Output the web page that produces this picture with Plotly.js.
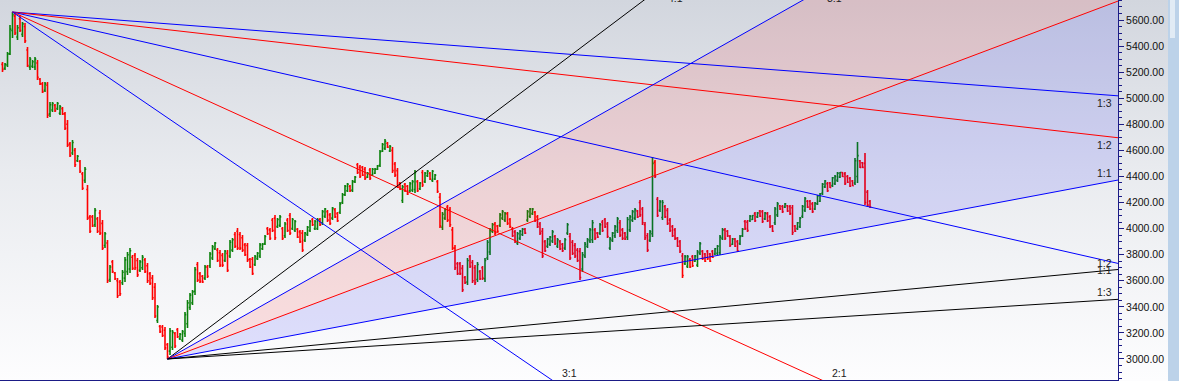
<!DOCTYPE html>
<html><head><meta charset="utf-8">
<script src="https://cdn.plot.ly/plotly-3.0.1.min.js"></script>
<style>
html,body{margin:0;padding:0;}
body{width:1179px;height:381px;overflow:hidden;position:relative;background:linear-gradient(to bottom,#d2d6de 0%,#e9ebef 45%,#fdfdfe 100%);}
#chart{position:absolute;left:0;top:0;width:1179px;height:381px;}
#scroll{position:absolute;left:1168px;top:0;width:11px;height:381px;background:#bcd2e9;}
#thumb{position:absolute;left:1170px;top:0;width:5px;height:38px;background:#e1ebf5;}
</style></head><body>
<div id="chart"></div><div id="scroll"></div><div id="thumb"></div>
<script>
// ---- OHLC data (bar index 0..347) ----
const openPrices = [
5260,5230,5255,5340,5520,5630,5470,5610,5490,5550,
5370,5240,5245,5240,5270,5145,5110,5060,5100,4880,
4910,4945,4920,4885,4920,4880,4800,4650,4580,4600,
4520,4515,4420,4370,4300,4090,4090,4030,4075,4120,
4040,3870,3890,3610,3745,3660,3600,3590,3585,3620,
3670,3690,3780,3795,3755,3680,3700,3760,3715,3655,
3620,3550,3295,3250,3245,3220,3110,3060,3090,3195,
3225,3155,3145,3195,3270,3395,3430,3520,3725,3655,
3635,3620,3705,3715,3775,3845,3835,3815,3795,3755,
3810,3790,3835,3955,3980,3955,3930,3875,3870,3765,
3765,3725,3770,3790,3845,3885,4000,3990,4065,4080,
4015,4025,4000,3945,4065,4100,4000,3985,3995,3975,
3965,3910,3955,3985,4070,4000,4000,4070,4045,4095,
4130,4105,4080,4145,4115,4125,4200,4260,4290,4325,
4295,4360,4490,4470,4470,4455,4395,4450,4410,4425,
4455,4485,4595,4615,4655,4595,4600,4495,4445,4350,
4215,4340,4325,4290,4295,4300,4360,4305,4430,4360,
4405,4425,4370,4380,4360,4240,4010,4080,4165,4145,
3990,3850,3730,3730,3695,3625,3590,3785,3740,3700,
3610,3670,3700,3615,3775,3820,3980,4035,4020,4025,
4080,4065,4115,4070,4000,3975,3890,3925,3955,3995,
4065,4095,4115,4125,4090,4035,3980,3900,3865,3880,
3905,3940,3865,3900,3880,3850,3965,3940,3895,3870,
3835,3825,3690,3790,3865,3905,3915,3990,3965,3965,
4050,4070,4035,3850,3910,3945,3985,4045,3990,3965,
3935,3990,4065,4080,4135,4200,4150,4030,3945,3910,
3960,4510,4225,4140,4085,4170,4140,4065,4015,3990,
3925,3900,3790,3730,3710,3765,3785,3750,3720,3810,
3825,3805,3825,3805,3825,3805,3810,3815,3925,3990,
3980,3940,3880,3920,3900,3885,3945,4055,4050,4060,
4070,4115,4090,4135,4130,4075,4115,4090,4020,4045,
4105,4175,4170,4165,4175,4170,4160,4020,4000,4015,
4095,4140,4210,4210,4190,4150,4190,4210,4270,4320,
4345,4350,4330,4345,4370,4395,4430,4420,4400,4385,
4365,4350,4400,4520,4505,4500,4280,4210];
const highPrices = [
5277,5270,5354,5561,5661,5655,5561,5638,5584,5577,
5393,5316,5293,5316,5293,5155,5124,5124,5124,4971,
4971,4955,4971,4948,4932,4894,4833,4664,4680,4618,
4564,4526,4434,4472,4334,4104,4104,4158,4089,4143,
4066,3974,3913,3721,3759,3667,3621,3606,3682,3782,
3820,3851,3797,3813,3774,3759,3797,3774,3736,3667,
3644,3583,3414,3260,3260,3245,3122,3237,3222,3207,
3237,3199,3222,3360,3452,3506,3529,3705,3744,3667,
3644,3721,3721,3820,3874,3897,3851,3836,3813,3836,
3836,3913,3928,3974,4004,3974,3951,3889,3889,3774,
3782,3797,3820,3889,3889,3951,4012,4004,4081,4104,
4081,4104,4012,4051,4081,4120,4081,4066,4004,3989,
3989,3974,4020,4066,4081,4066,4081,4081,4143,4158,
4143,4120,4165,4158,4127,4204,4273,4334,4350,4334,
4373,4403,4503,4488,4480,4472,4434,4465,4465,4465,
4488,4603,4656,4687,4664,4641,4626,4511,4465,4357,
4334,4350,4334,4357,4373,4449,4373,4357,4449,4434,
4449,4434,4449,4418,4373,4273,4127,4158,4181,4165,
4012,3874,3744,3744,3721,3636,3774,3797,3759,3721,
3744,3682,3713,3774,3913,4004,4043,4051,4027,4120,
4143,4127,4127,4081,4012,3989,3974,3989,4004,4004,
4143,4158,4158,4135,4104,4051,4004,3913,3928,3943,
3989,3951,3928,3913,3889,3928,4043,3966,3913,3889,
3851,3851,3820,3897,3928,4004,4066,4004,3974,4043,
4066,4081,4051,3935,3974,4027,4089,4066,4004,3974,
4089,4104,4143,4158,4143,4219,4165,4051,3966,3989,
4549,4526,4242,4219,4219,4181,4158,4081,4027,4004,
3935,3913,3813,3797,3797,3774,3797,3797,3836,3897,
3836,3813,3836,3813,3836,3851,3874,3951,4004,4004,
3989,3951,3928,3928,3913,3951,4004,4066,4066,4104,
4104,4127,4127,4143,4143,4127,4127,4104,4027,4165,
4204,4181,4181,4196,4181,4181,4181,4027,4051,4089,
4181,4242,4219,4219,4204,4204,4257,4273,4350,4373,
4357,4357,4396,4411,4434,4434,4434,4434,4411,4396,
4373,4541,4664,4526,4511,4580,4296,4219];
const lowPrices = [
5201,5216,5239,5331,5462,5485,5446,5508,5469,5423,
5239,5216,5232,5216,5140,5101,5040,5047,4848,4856,
4894,4894,4910,4871,4871,4756,4626,4549,4564,4472,
4511,4426,4296,4350,4066,3966,4012,4012,3966,3951,
3836,3851,3583,3590,3659,3606,3468,3483,3567,3590,
3644,3659,3682,3682,3629,3667,3682,3659,3583,3567,
3452,3314,3276,3199,3168,3069,3000,3030,3069,3084,
3161,3146,3130,3168,3237,3376,3414,3491,3590,3583,
3583,3606,3621,3698,3759,3836,3744,3705,3705,3744,
3667,3774,3820,3851,3836,3836,3820,3790,3744,3698,
3644,3713,3759,3774,3836,3874,3951,3913,3974,3913,
4004,4012,3913,3928,3974,3951,3989,3974,3928,3889,
3820,3897,3943,3974,4020,3989,3989,4020,4027,4081,
4051,4027,4066,4081,4051,4112,4188,4250,4280,4280,
4280,4350,4418,4388,4403,4373,4388,4373,4403,4418,
4449,4472,4587,4603,4618,4587,4426,4396,4311,4296,
4196,4280,4257,4280,4280,4273,4280,4296,4319,4350,
4396,4373,4357,4373,4273,4004,3989,4066,4051,4012,
3836,3682,3644,3644,3514,3575,3567,3698,3583,3567,
3590,3606,3606,3590,3759,3797,3966,3951,3974,4012,
4066,4051,4027,4004,3935,3889,3874,3913,3943,3958,
4051,4081,4104,4051,4004,3951,3774,3820,3851,3866,
3889,3874,3851,3836,3820,3836,3951,3759,3797,3774,
3744,3606,3667,3774,3851,3889,3889,3913,3928,3951,
3974,4004,3928,3836,3897,3928,3966,3935,3913,3913,
3913,3974,4051,4066,4081,4089,4027,3913,3820,3897,
3935,4388,4089,4127,4066,4081,4027,3974,3935,3913,
3859,3813,3621,3721,3698,3698,3705,3744,3705,3797,
3759,3744,3759,3744,3774,3797,3797,3797,3913,3913,
3935,3859,3874,3859,3820,3874,3935,3989,3974,4051,
4066,4051,4081,4089,4043,4066,4051,4004,3974,4027,
4089,4143,4120,4158,4127,4104,3951,3974,3989,4004,
4081,4127,4158,4143,4120,4143,4181,4204,4257,4311,
4280,4311,4319,4334,4357,4388,4396,4334,4350,4319,
4326,4334,4350,4465,4465,4181,4165,4158];
const closePrices = [
5220,5260,5340,5530,5640,5500,5540,5520,5570,5440,
5250,5300,5280,5300,5160,5110,5050,5110,4870,4950,
4960,4905,4960,4935,4880,4770,4640,4560,4660,4490,
4555,4440,4310,4455,4080,3980,4020,4140,3980,3965,
3850,3960,3600,3705,3670,3615,3485,3500,3665,3760,
3800,3830,3695,3700,3645,3745,3780,3670,3600,3580,
3470,3330,3400,3210,3180,3085,3015,3215,3205,3100,
3170,3190,3210,3340,3430,3490,3515,3685,3605,3595,
3590,3705,3635,3805,3860,3890,3755,3720,3720,3825,
3680,3895,3915,3865,3850,3850,3835,3800,3760,3705,
3655,3785,3810,3875,3880,3940,3960,3925,3985,3930,
4070,4090,3925,4035,3985,3965,4070,4055,3935,3900,
3835,3965,4010,4055,4030,4055,4070,4030,4130,4150,
4065,4040,4155,4090,4060,4190,4260,4325,4340,4290,
4360,4395,4430,4400,4410,4385,4425,4385,4455,4455,
4480,4590,4645,4670,4625,4630,4445,4410,4325,4305,
4320,4290,4265,4345,4360,4430,4290,4350,4335,4425,
4440,4380,4440,4410,4285,4020,4110,4145,4065,4030,
3850,3700,3655,3655,3530,3585,3755,3710,3600,3585,
3725,3615,3620,3755,3895,3985,4030,3965,3980,4105,
4130,4115,4040,4015,3945,3900,3960,3980,3995,3965,
4130,4150,4150,4060,4015,3965,3790,3830,3920,3935,
3975,3885,3915,3845,3830,3915,4030,3775,3810,3790,
3755,3625,3800,3880,3915,3990,4045,3925,3935,4030,
3985,4015,3940,3920,3965,4015,4075,3950,3925,3920,
4070,4090,4130,4145,4090,4105,4045,3930,3835,3975,
4500,4400,4100,4205,4200,4090,4040,3985,3945,3925,
3865,3825,3640,3785,3785,3705,3715,3790,3820,3885,
3770,3750,3770,3750,3780,3845,3865,3935,3990,3925,
3945,3870,3920,3865,3830,3940,3995,4000,3985,4095,
4100,4060,4120,4095,4055,4120,4060,4015,3980,4150,
4190,4150,4130,4190,4135,4115,3970,3980,4045,4080,
4170,4230,4165,4150,4130,4195,4250,4265,4340,4365,
4290,4315,4390,4400,4425,4430,4400,4345,4355,4325,
4330,4520,4560,4470,4470,4200,4180,4165];

// ---- Gann fans ----
const topFanRatios = [1/3, 1/2, 1, 2, 3];
const topFanLabels = ['1:3', '1:2', '1:1', '2:1', '3:1'];
const bottomFanRatios = [4, 3, 2, 1, 1/2, 1/3];
const bottomFanLabels = ['4:1', '3:1', '2:1', '1:1', '1:2', '1:3'];
const topFanUnit = 4.36;      // points per bar for 1:1
const bottomFanUnit = 3.61;   // points per bar for 1:1

// styles
const topFanColors = ['#0000ff', '#ff0000', '#0000ff', '#ff0000', '#0000ff'];
const bottomFanColors = ['#000000', '#0000ff', '#ff0000', '#0000ff', '#000000', '#000000'];
const X_RANGE = [-1, 446.2];
const Y_RANGE = [2838.8, 5753.4];
const AXIS_COLOR = '#1b1b86';
const FONT = 'Liberation Sans, Arial, sans-serif';

const xIdx = highPrices.map((_, i) => i);
const topX = highPrices.indexOf(Math.max(...highPrices));
const topY = highPrices[topX];
const botX = lowPrices.indexOf(Math.min(...lowPrices));
const botY = lowPrices[botX];

function lineAt(ax, ay, slope, x) { return ay + slope * (x - ax); }
function exitPoint(ax, ay, slope) {
  const yR = lineAt(ax, ay, slope, X_RANGE[1]);
  if (yR > Y_RANGE[1]) return {side: 'top', x: ax + (Y_RANGE[1] - ay) / slope, y: Y_RANGE[1]};
  if (yR < Y_RANGE[0]) return {side: 'bottom', x: ax + (Y_RANGE[0] - ay) / slope, y: Y_RANGE[0]};
  return {side: 'right', x: X_RANGE[1], y: yR};
}

const traces = [];
const annotations = [];
const xEnd = X_RANGE[1];

// fills of the lower fan: 3:1..2:1 pink, 2:1..1:1 lavender
function fanFill(r1, r2, color) {
  traces.push({
    type: 'scatter', mode: 'lines', fill: 'toself', fillcolor: color,
    x: [botX, xEnd, xEnd, botX],
    y: [botY, lineAt(botX, botY, r1 * bottomFanUnit, xEnd), lineAt(botX, botY, r2 * bottomFanUnit, xEnd), botY],
    line: {width: 0, color: 'rgba(0,0,0,0)'}, hoverinfo: 'skip', showlegend: false
  });
}
fanFill(bottomFanRatios[1], bottomFanRatios[2], 'rgba(255,0,0,0.11)');
fanFill(bottomFanRatios[2], bottomFanRatios[3], 'rgba(0,0,255,0.11)');

const PX_PER_UNIT_Y = 380 / (Y_RANGE[1] - Y_RANGE[0]);
function addFan(ax, ay, ratios, labels, colors, unit, dir) {
  ratios.forEach((r, k) => {
    const slope = dir * r * unit;
    traces.push({
      type: 'scatter', mode: 'lines',
      x: [ax, xEnd], y: [ay, lineAt(ax, ay, slope, xEnd)],
      line: {color: colors[k], width: 1}, hoverinfo: 'skip', showlegend: false
    });
    const e = exitPoint(ax, ay, slope);
    const a = {x: e.x, y: e.y, xref: 'x', yref: 'y', text: labels[k], showarrow: false,
      font: {family: FONT, size: 10.5, color: '#222'}};
    if (e.side === 'right') {
      // a label that would sit above the top edge is not shown in the original
      if (dir > 0 && (Y_RANGE[1] - e.y) * PX_PER_UNIT_Y < 8) return;
      a.xanchor = 'right'; a.xshift = -4; a.yanchor = 'middle'; a.yshift = dir < 0 ? -7 : 7;
    }
    else if (e.side === 'bottom') { a.xanchor = 'left'; a.xshift = 8; a.yanchor = 'middle'; a.yshift = 7; }
    else { a.xanchor = 'left'; a.xshift = 22; a.yanchor = 'middle'; a.yshift = 2; }
    annotations.push(a);
  });
}
addFan(topX, topY, topFanRatios, topFanLabels, topFanColors, topFanUnit, -1);
addFan(botX, botY, bottomFanRatios, bottomFanLabels, bottomFanColors, bottomFanUnit, 1);

traces.push({
  type: 'ohlc', x: xIdx, open: openPrices, high: highPrices, low: lowPrices, close: closePrices,
  increasing: {line: {color: '#0a800a', width: 1.6}},
  decreasing: {line: {color: '#ff0000', width: 1.6}},
  tickwidth: 0.5, hoverinfo: 'skip', showlegend: false
});

const layout = {
  width: 1179, height: 381,
  margin: {l: 0, r: 61, t: 0, b: 1, pad: 0},
  paper_bgcolor: 'rgba(0,0,0,0)', plot_bgcolor: 'rgba(0,0,0,0)',
  showlegend: false,
  xaxis: {range: X_RANGE, showgrid: false, zeroline: false, showline: true, linecolor: AXIS_COLOR, linewidth: 1,
    showticklabels: false, ticks: '', rangeslider: {visible: false}, fixedrange: true},
  yaxis: {side: 'right', range: Y_RANGE, showgrid: false, zeroline: false, showline: true, linecolor: AXIS_COLOR, linewidth: 1,
    ticks: 'outside', ticklen: 5, tickwidth: 1, tickcolor: AXIS_COLOR, tick0: 0, dtick: 200, tickformat: '.2f',
    tickfont: {family: FONT, size: 10.5, color: '#111'},
    minor: {dtick: 50, ticks: 'outside', ticklen: 3, tickcolor: AXIS_COLOR, tickwidth: 1},
    fixedrange: true},
  annotations: annotations
};
Plotly.newPlot('chart', traces, layout, {staticPlot: true, displayModeBar: false});
</script>
</body></html>
